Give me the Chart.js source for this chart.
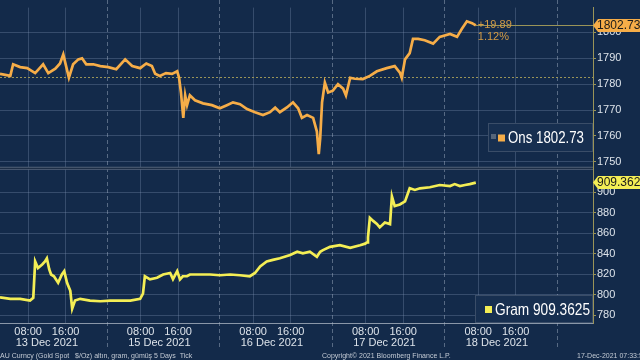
<!DOCTYPE html>
<html>
<head>
<meta charset="utf-8">
<script src="https://cdn.jsdelivr.net/npm/chart.js@4/dist/chart.umd.min.js"></script>
<style>
  html, body { margin: 0; padding: 0; background: #132a4a; }
  #graph { display: block; }
</style>
</head>
<body>
<canvas id="graph" width="640" height="360"></canvas>
<script>
// hours counted from 13 Dec 00:00
const onsHours = [2.0,4.2,4.8,6.3,7.8, 9.5,11.2,12.3,13.8,14.8, 15.5,16.1,16.7,17.6,18.7,
  19.5,20.4,21.9,23.4,25.1, 26.8,28.7,30.2,31.9,33.2, 34.4,35.1,36.1,37.4,38.7,
  39.8,40.2,40.6,41.1,41.5, 41.9,42.5,43.6,45.3,47.2, 48.9,50.4,51.7,53.2,54.7,
  56.4,58.1,59.6,60.7,61.7, 63.2,64.5,65.6,66.4,67.5, 68.8,69.6,70.0,70.3,70.7,
  71.3,72.0,73.0,74.1,75.2, 75.8,76.7,77.7,79.4,80.9, 82.4,84.5,86.2,87.3,87.7,
  88.4,89.4,90.1,91.2,92.6, 94.4,95.8,98.0,99.5,100.5, 101.6,102.7,103.5];
const onsValues = [1784,1783.2,1787.7,1786.6,1786.2, 1784.3,1787.7,1784.3,1786,1788,
  1791.5,1787,1782.5,1787.7,1789.6, 1790,1787.7,1787.7,1787,1786.6, 1785.8,1789.6,1787,1786.2,1788,
  1787,1784,1783.2,1784.3,1784, 1785,1782.5,1776.8,1767,1775.7, 1771.9,1775.7,1773.8,1772.6,1771.9,
  1770.7,1771.9,1773,1772.3,1770.4, 1769.2,1768.1,1769.2,1771,1769.2, 1771,1773,1770.7,1767,1768.1,
  1767,1761.7,1753,1759,1773, 1780.6,1776.8,1777.5,1780,1778.3, 1775.7,1782.5,1782.1,1782,1783.2,
  1785,1786.2,1787,1784.5,1782.5, 1789.6,1792,1797.5,1797.5,1797, 1795.7,1798.3,1799.4,1798.3,1801.3,
  1804.3,1803.6,1802.73];

const gramHours = [2.0,4.2,6.3,8.4,9.1, 9.5,10.1,11.0,11.6,12.0, 12.5,12.9,13.5,14.4,15.2,
  15.7,16.3,17.0,17.4,18.0, 19.1,21.2,23.4,25.5,27.6, 29.8,31.9,32.5,32.9,34.0,
  35.5,36.8,38.3,38.9,39.8, 40.4,41.0,41.9,42.5,44.7, 46.8,48.9,51.1,53.2,55.3,
  56.4,57.5,58.9,60.2,61.7, 63.9,65.4,66.6,68.1,69.6, 70.3,70.9,72.4,74.5,76.7,
  78.8,79.9,80.3,80.5,80.9, 81.6,82.4,83.0,84.1,85.2, 85.6,86.2,87.3,88.4,89.4,
  90.5,91.6,93.7,95.8,98.0, 99.0,100.1,101.2,102.2,103.5];
const gramValues = [797.4,796,796,794.3,797, 832.4,826,829.5,832.4,835.5, 824.8,819.7,818,811.7,819.7,
  823,811.7,803.8,786.4,794.3, 796,794.3,793.6,794.3,794.3, 794.3,796,801,818,815,
  816.5,819.7,821.2,815.2,823, 815,818,818,819.7,819.7, 819.7,819,819.7,819,818,
  821.2,827.6,832.4,834,835.5, 838.7,841.9,840.3,841.9,837, 841.9,843.5,846.7,848.3,845.7,
  848.3,849.8,851,856,875, 872,869,865.7,870.5,868.9, 896,886.4,888,891,903.8,
  902.2,903.8,904.8,907,906, 907.9,906,907,907.9,909.3625];

const onsTicks = [1750,1760,1770,1780,1790,1800];
const gramTicks = [780,800,820,840,860,880,900];
const dayLabels = ['13 Dec 2021','15 Dec 2021','16 Dec 2021','17 Dec 2021','18 Dec 2021'];
const timeLabels = {8: '08:00', 16: '16:00'};
const daySplitHours = [24.75,48.75,72.75,96.75,120.75];

const onsPrevClose = 1782.84;
const onsChange = '+19.89';
const onsChangePct = '1.12%';

const NAVY = '#132a4a';
const GRID = 'rgba(130,150,180,0.32)';
const OLIVE = '#9a9458';
const ORANGE = '#f6ad48';
const YELLOW = '#f4ee55';
const FONT = "'Liberation Sans', Arial, sans-serif";

function xTicks() {
  const t = [];
  for (let d = 0; d < dayLabels.length; d++) {
    t.push({value: d * 24 + 8}, {value: d * 24 + 12}, {value: d * 24 + 16});
  }
  return t;
}

function badge(ctx, y, text, fill) {
  ctx.fillStyle = fill;
  ctx.beginPath();
  ctx.moveTo(593, y);
  ctx.lineTo(598, y - 6.5);
  ctx.lineTo(640, y - 6.5);
  ctx.lineTo(640, y + 6.5);
  ctx.lineTo(598, y + 6.5);
  ctx.closePath();
  ctx.fill();
  ctx.fillStyle = '#1b1b1b';
  ctx.font = '12px ' + FONT;
  ctx.textBaseline = 'middle';
  ctx.textAlign = 'left';
  ctx.fillText(text, 597, y + 0.5);
}

// text squeezed to the width it has in the picture
function legendBox(ctx, x1, y1, x2, y2, color, text, textWidth) {
  ctx.fillStyle = '#172f50';
  ctx.fillRect(x1, y1, x2 - x1, y2 - y1);
  ctx.strokeStyle = '#3a4d68';
  ctx.lineWidth = 1;
  ctx.strokeRect(x1 + 0.5, y1 + 0.5, x2 - x1 - 1, y2 - y1 - 1);
  const cy = (y1 + y2) / 2;
  ctx.fillStyle = color;
  ctx.fillRect(x1 + 10, cy - 3, 7, 7);
  ctx.fillStyle = '#ffffff';
  ctx.font = '17px ' + FONT;
  ctx.textBaseline = 'middle';
  ctx.textAlign = 'left';
  const w = ctx.measureText(text).width;
  ctx.save();
  ctx.translate(x1 + 20, cy + 1);
  ctx.scale(Math.min(1, textWidth / w), 1);
  ctx.fillText(text, 0, 0);
  ctx.restore();
}

const extras = {
  id: 'extras',
  beforeDraw(chart) {
    const ctx = chart.ctx;
    ctx.save();
    ctx.fillStyle = NAVY;
    ctx.fillRect(0, 0, chart.width, chart.height);
    ctx.restore();
  },
  beforeDatasetsDraw(chart) {
    const ctx = chart.ctx;
    const x = chart.scales.x, yT = chart.scales.yTop;
    ctx.save();
    // day separators
    ctx.strokeStyle = 'rgba(170,185,205,0.45)';
    ctx.lineWidth = 1;
    ctx.setLineDash([4, 3]);
    daySplitHours.forEach(h => {
      const px = Math.round(x.getPixelForValue(h)) + 0.5;
      ctx.beginPath();
      ctx.moveTo(px, 0);
      ctx.lineTo(px, 350);
      ctx.stroke();
    });
    // previous close
    ctx.strokeStyle = OLIVE;
    ctx.setLineDash([2, 2]);
    const pc = Math.round(yT.getPixelForValue(onsPrevClose)) + 0.5;
    ctx.beginPath();
    ctx.moveTo(0, pc);
    ctx.lineTo(x.right, pc);
    ctx.stroke();
    // last price line
    ctx.setLineDash([]);
    const last = onsValues.length - 1;
    const ly = Math.round(yT.getPixelForValue(onsValues[last])) + 0.5;
    ctx.beginPath();
    ctx.moveTo(x.getPixelForValue(onsHours[last]), ly);
    ctx.lineTo(x.right, ly);
    ctx.stroke();
    ctx.restore();
  },
  afterDraw(chart) {
    const ctx = chart.ctx;
    const x = chart.scales.x, yT = chart.scales.yTop, yB = chart.scales.yBot;
    ctx.save();
    // panel separator
    const sep = yT.bottom;
    ctx.fillStyle = '#56657b';
    ctx.fillRect(0, sep, 593, 3);
    ctx.fillStyle = '#0e2038';
    ctx.fillRect(0, sep + 1, 593, 1);

    const lastO = onsValues[onsValues.length - 1];
    const lastG = gramValues[gramValues.length - 1];
    // change text
    ctx.fillStyle = '#d49c45';
    ctx.font = '11px ' + FONT;
    ctx.textAlign = 'left';
    ctx.textBaseline = 'middle';
    const cx = x.getPixelForValue(onsHours[onsHours.length - 1]) + 2;
    ctx.fillText(onsChange, cx, 25);
    ctx.fillText(onsChangePct, cx, 37);

    badge(ctx, yT.getPixelForValue(lastO), lastO.toFixed(2), ORANGE);
    badge(ctx, yB.getPixelForValue(lastG), lastG.toFixed(4), YELLOW);

    legendBox(ctx, 488, 123, 593, 152, ORANGE, 'Ons ' + lastO.toFixed(2), 76);
    legendBox(ctx, 475, 295, 593, 323, YELLOW, 'Gram ' + lastG.toFixed(4), 95);
    ctx.fillStyle = '#55657a';
    ctx.fillRect(491, 134, 5, 5);

    // footer
    ctx.fillStyle = '#c3cad4';
    ctx.font = '7px ' + FONT;
    ctx.textBaseline = 'alphabetic';
    ctx.fillText('AU Curncy (Gold Spot   $/Oz) altın, gram, gümüş 5 Days  Tick', 0, 358);
    ctx.fillText('Copyright\u00a9 2021 Bloomberg Finance L.P.', 322, 358);
    ctx.fillText('17-Dec-2021 07:33:59', 577, 358);
    ctx.restore();
  }
};

const yTickOpts = {autoSkip: false, padding: 1, color: '#dde3ea', font: {family: FONT, size: 11}, callback: v => String(v)};

const ctx = document.getElementById('graph').getContext('2d');
new Chart(ctx, {
  type: 'line',
  data: {
    datasets: [{
      label: 'Ons',
      data: onsHours.map((h, i) => ({x: h, y: onsValues[i]})),
      yAxisID: 'yTop',
      borderColor: ORANGE,
      borderWidth: 2.7,
      pointRadius: 0,
      tension: 0
    }, {
      label: 'Gram',
      data: gramHours.map((h, i) => ({x: h, y: gramValues[i]})),
      yAxisID: 'yBot',
      borderColor: YELLOW,
      borderWidth: 2.7,
      pointRadius: 0,
      tension: 0
    }]
  },
  options: {
    responsive: false,
    animation: false,
    devicePixelRatio: 1,
    layout: {padding: 0},
    plugins: {legend: {display: false}, tooltip: {enabled: false}},
    scales: {
      x: {
        type: 'linear',
        position: 'bottom',
        min: 2,
        max: 128.5,
        afterBuildTicks: s => { s.ticks = xTicks(); },
        afterFit: s => { s.height = 37; },
        grid: {
          color: c => (c.tick && c.tick.value % 24 === 12) ? 'rgba(0,0,0,0)' : GRID,
          drawTicks: false
        },
        border: {color: '#8a97a8'},
        ticks: {
          autoSkip: false,
          maxRotation: 0,
          minRotation: 0,
          padding: 3,
          color: '#dde3ea',
          font: {family: FONT, size: 11, lineHeight: 1.0},
          callback: v => {
            const hod = v % 24;
            if (hod === 12) return ['', dayLabels[Math.floor(v / 24)]];
            return [timeLabels[hod], ''];
          }
        }
      },
      yTop: {
        type: 'linear',
        position: 'right',
        stack: 'panels',
        stackWeight: 163,
        min: 1748.1,
        max: 1809.6,
        afterBuildTicks: s => { s.ticks = onsTicks.map(v => ({value: v})); },
        afterFit: s => { s.width = 47; },
        grid: {color: GRID, tickColor: OLIVE, tickLength: 3},
        border: {color: OLIVE},
        ticks: yTickOpts
      },
      yBot: {
        type: 'linear',
        position: 'right',
        stack: 'panels',
        stackWeight: 160,
        min: 772.4,
        max: 924.8,
        afterBuildTicks: s => { s.ticks = gramTicks.map(v => ({value: v})); },
        afterFit: s => { s.width = 47; },
        grid: {color: GRID, tickColor: OLIVE, tickLength: 3},
        border: {color: OLIVE},
        ticks: yTickOpts
      }
    }
  },
  plugins: [extras]
});
</script>
</body>
</html>
